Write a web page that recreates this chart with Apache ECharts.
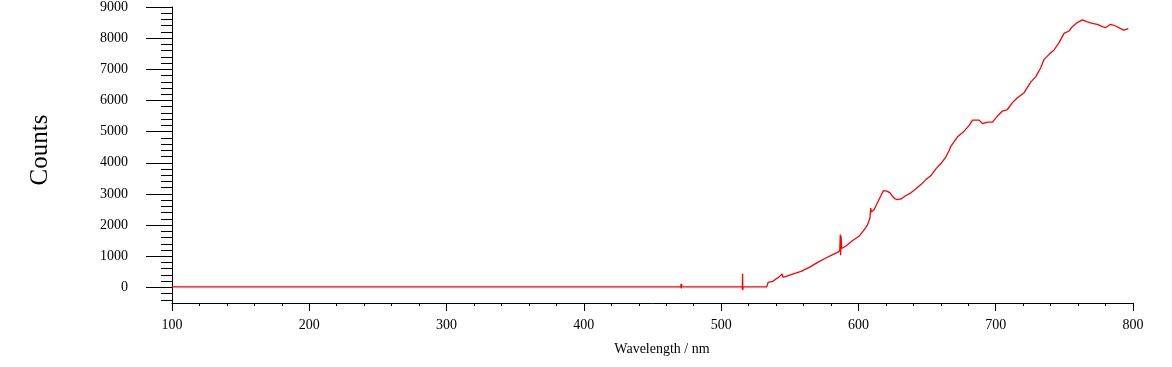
<!DOCTYPE html>
<html>
<head>
<meta charset="utf-8">
<script src="https://cdn.jsdelivr.net/npm/echarts@6/dist/echarts.min.js"></script>
<style>
html,body{margin:0;padding:0;background:#fff;}
#chart{width:1172px;height:367px;}
</style>
</head>
<body>
<div id="chart"></div>
<script>
// Wavelength (nm) sample positions
const wavelength = [
  100, 470.6, 470.8, 471.0, 471.2, 471.4, 515.2, 515.4, 515.6, 515.8, 516.0, 516.2,
  533.2, 534.2, 537.6, 540, 542, 544.4, 545, 547.3, 552.1, 558.2, 564.2, 570.3,
  576.4, 581.2, 584.8, 586.4, 586.8, 587.0, 587.4, 587.8, 590.9, 595.8, 600.4,
  604.3, 606.7, 608.4, 609.0, 609.4, 610, 611.5, 613.2, 615.2, 616.8, 618.3,
  620.8, 623, 624.8, 626.8, 628.5, 631, 634.6, 638.2, 641.9, 645.5, 649.2,
  652.8, 656.4, 660.1, 663.2, 666.1, 667.3, 672.2, 677, 680.7, 683.1, 685.5,
  687.9, 690.4, 694, 697.6, 701.3, 704.9, 708.5, 712.2, 715.8, 720.7, 725.5,
  729.2, 732.8, 735.2, 738.9, 742.5, 746.1, 749.8, 753.4, 755.8, 759.4, 763.1,
  766.7, 770.4, 774, 777.7, 780.1, 783.7, 787.4, 791, 793.4, 796.6
];
// Counts at each wavelength
const counts = [
  20, 20, 120, -30, 110, 20, 20, -60, 440, -90, 20, 20,
  20, 160, 195, 270, 330, 430, 330, 355, 430, 515, 645, 805,
  945, 1050, 1125, 1180, 1695, 1030, 1640, 1250, 1330, 1505, 1640,
  1855, 2015, 2230, 2550, 2420, 2460, 2500, 2660, 2840, 2980, 3110,
  3090, 3035, 2925, 2840, 2820, 2840, 2950, 3035, 3165, 3300, 3460,
  3590, 3805, 3975, 4155, 4395, 4530, 4835, 5015, 5200, 5370, 5370,
  5370, 5260, 5305, 5305, 5500, 5660, 5710, 5930, 6090, 6250, 6590,
  6765, 7050, 7320, 7480, 7620, 7855, 8155, 8230, 8370, 8500, 8585,
  8520, 8475, 8445, 8370, 8340, 8445, 8390, 8305, 8260, 8305
];
// Tick labels
const yMajorTicks = [0, 1000, 2000, 3000, 4000, 5000, 6000, 7000, 8000, 9000];
const yMinorTicks = [-400, -200, 200, 400, 600, 800, 1200, 1400, 1600, 1800, 2200, 2400, 2600, 2800,
  3200, 3400, 3600, 3800, 4200, 4400, 4600, 4800, 5200, 5400, 5600, 5800,
  6200, 6400, 6600, 6800, 7200, 7400, 7600, 7800, 8200, 8400, 8600, 8800];
const xLabel = 'Wavelength / nm';
const yLabel = 'Counts';

const chart = echarts.init(document.getElementById('chart'), null, {renderer: 'canvas'});
const FONT = '"Liberation Serif", "Times New Roman", serif';
const pts = wavelength.map((w, i) => [w, counts[i]]);

chart.setOption({
  animation: false,
  backgroundColor: '#fff',
  grid: {left: 172, right: 39, top: 7, bottom: 64, containLabel: false},
  xAxis: {
    type: 'value', min: 100, max: 800, interval: 100,
    axisLine: {show: true, onZero: false, lineStyle: {color: '#000', width: 1}},
    axisTick: {show: true, length: 8, lineStyle: {color: '#000'}},
    minorTick: {show: true, splitNumber: 5, length: 3, lineStyle: {color: '#000'}},
    splitLine: {show: false},
    axisLabel: {color: '#000', fontFamily: FONT, fontSize: 14, margin: 15,
      formatter: v => String(v)}
  },
  yAxis: [{
    type: 'value', min: -500, max: 9000,
    axisLine: {show: true, onZero: false, lineStyle: {color: '#000', width: 1}},
    axisTick: {show: true, length: 26, customValues: yMajorTicks, lineStyle: {color: '#000'}},
    splitLine: {show: false},
    axisLabel: {color: '#000', fontFamily: FONT, fontSize: 14, margin: 44, customValues: yMajorTicks,
      formatter: v => String(v)}
  }, {
    type: 'value', min: -500, max: 9000, position: 'left',
    axisLine: {show: false, onZero: false},
    axisTick: {show: true, length: 11, customValues: yMinorTicks, lineStyle: {color: '#000'}},
    splitLine: {show: false},
    axisLabel: {show: false}
  }],
  graphic: [{
    type: 'text', x: 40, y: 150, rotation: Math.PI / 2,
    style: {text: yLabel, font: '25px ' + FONT, fill: '#000', align: 'center', verticalAlign: 'middle'}
  }, {
    type: 'text', x: 662, y: 349,
    style: {text: xLabel, font: '14px ' + FONT, fill: '#000', align: 'center', verticalAlign: 'middle'}
  }],
  series: [{
    type: 'line', data: pts, yAxisIndex: 0, showSymbol: false, symbol: 'none',
    lineStyle: {color: '#ff0000', width: 1.3}, itemStyle: {color: '#ff0000'}
  }]
});
</script>
</body>
</html>
